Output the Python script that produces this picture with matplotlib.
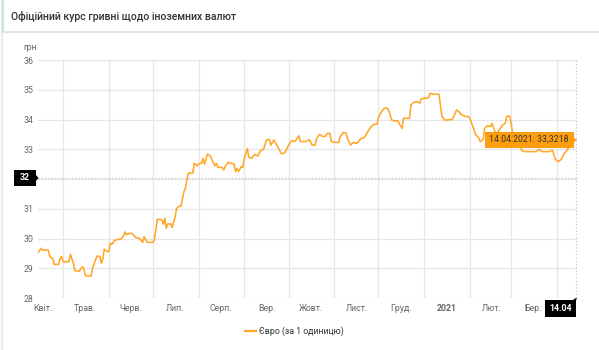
import numpy as np
import pandas as pd
import matplotlib
matplotlib.use('Agg')
import matplotlib.pyplot as plt
import matplotlib.dates as mdates
from matplotlib.patches import Rectangle, Polygon
from matplotlib.lines import Line2D

plt.rcParams['font.family'] = ['Roboto', 'DejaVu Sans']

# EUR/UAH official rate, 14.04.2020 - 14.04.2021 (days since start, value)
start = pd.Timestamp('2020-04-14')
days = [0, 2, 3, 7, 8, 10, 11, 14, 15, 16, 17, 21, 22, 24, 25, 28, 30, 31, 32, 33,
        36, 37, 39, 40, 42, 43, 44, 45, 47, 48, 49, 50, 52, 54, 56, 58, 59, 60, 62, 64,
        66, 69, 71, 72, 74, 75, 78, 79, 81, 84, 85, 86, 87, 88, 90, 91, 93, 94, 96, 97,
        99, 100, 101, 102, 103, 105, 106, 108, 109, 111, 112, 113, 115, 117, 118, 120, 121, 122, 125, 126,
        127, 129, 131, 133, 134, 135, 136, 138, 139, 140, 142, 143, 145, 147, 149, 151, 153, 155, 157, 158,
        160, 162, 164, 165, 167, 169, 170, 172, 174, 175, 177, 178, 182, 184, 186, 188, 189, 191, 193, 195,
        196, 198, 199, 201, 204, 205, 207, 209, 210, 212, 214, 216, 217, 219, 221, 222, 224, 226, 228, 230,
        231, 233, 235, 237, 238, 240, 242, 244, 245, 247, 248, 252, 253, 255, 257, 259, 260, 262, 265, 266,
        268, 272, 273, 274, 276, 281, 282, 284, 285, 287, 290, 292, 293, 295, 297, 299, 300, 302, 303, 305,
        307, 308, 310, 311, 313, 315, 317, 318, 320, 321, 322, 324, 327, 328, 330, 334, 338, 340, 342, 347,
        349, 351, 353, 355, 357, 359, 361, 365]
eur = [29.52, 29.67, 29.61, 29.61, 29.39, 29.33, 29.13, 29.13, 29.33, 29.40, 29.22, 29.22, 29.47, 29.17, 28.92, 28.90, 29.05, 29.00, 28.77, 28.74,
       28.74, 29.00, 29.28, 29.41, 29.39, 29.17, 29.33, 29.64, 29.56, 29.56, 29.84, 29.80, 29.93, 29.97, 29.97, 30.08, 30.22, 30.13, 30.17, 30.17,
       30.04, 30.00, 29.87, 30.06, 29.88, 29.87, 29.87, 29.96, 30.65, 30.63, 30.48, 30.68, 30.34, 30.49, 30.49, 30.37, 30.71, 31.01, 31.09, 31.09,
       31.57, 31.69, 31.97, 32.19, 32.20, 32.20, 32.53, 32.44, 32.51, 32.53, 32.70, 32.50, 32.84, 32.77, 32.64, 32.44, 32.53, 32.39, 32.39, 32.30,
       32.42, 32.56, 32.53, 32.51, 32.25, 32.35, 32.25, 32.42, 32.39, 32.70, 33.03, 32.73, 32.70, 32.83, 32.77, 32.95, 33.00, 33.31, 33.33, 33.14,
       33.31, 33.14, 32.95, 32.86, 32.86, 33.03, 33.14, 33.29, 33.26, 33.31, 33.45, 33.26, 33.26, 33.33, 33.14, 33.14, 33.36, 33.50, 33.43, 33.43,
       33.52, 33.54, 33.26, 33.23, 33.23, 33.43, 33.56, 33.54, 33.36, 33.14, 33.23, 33.20, 33.23, 33.36, 33.38, 33.43, 33.62, 33.76, 33.84, 33.84,
       34.07, 34.26, 34.38, 34.38, 34.30, 33.98, 33.95, 33.96, 33.87, 33.70, 34.04, 34.04, 34.49, 34.58, 34.60, 34.55, 34.69, 34.71, 34.73, 34.88,
       34.85, 34.85, 34.49, 34.10, 33.98, 34.00, 34.10, 34.32, 34.29, 34.17, 34.10, 34.10, 34.04, 33.76, 33.48, 33.39, 33.25, 33.33, 33.70, 33.79,
       33.76, 33.87, 33.59, 33.53, 33.65, 33.81, 33.87, 34.10, 34.12, 33.87, 33.53, 33.35, 33.25, 32.97, 32.92, 32.92, 32.92, 33.00, 32.92, 32.92,
       32.97, 32.66, 32.58, 32.66, 32.86, 32.97, 33.15, 33.3218]
dates = start + pd.to_timedelta(days, unit='D')

month_labels = ['Квіт.', 'Трав.', 'Черв.', 'Лип.', 'Серп.', 'Вер.', 'Жовт.',
                'Лист.', 'Груд.', '2021', 'Лют.', 'Бер.']
y_ticks = [28, 29, 30, 31, 32, 33, 34, 35, 36]
cursor_value = 32.03

W, H = 599, 350
line_c = '#ffa726'
grid_c = '#e6e6e6'
text_c = '#666666'

fig = plt.figure(figsize=(W / 100, H / 100), dpi=100)
fig.patch.set_facecolor('white')


def px(x, y):
    return (x, H - y)


ax = fig.add_axes([38 / W, 52 / H, 539 / W, 238 / H])
ax.plot(dates, eur, color=line_c, lw=1.15, solid_joinstyle='round', zorder=3)

ax.set_ylim(28, 36)
ax.set_xlim(start, dates[-1] + pd.Timedelta(hours=16))

# grid: vertical lines at month starts, labels in the middle of each month
month_starts = pd.date_range('2020-05-01', periods=12, freq='MS')
ax.set_xticks(month_starts, minor=True)
label_pos = [start + pd.Timedelta(days=3)] + list(month_starts[:11] + pd.Timedelta(days=15))
ax.set_xticks(label_pos)
ax.set_xticklabels(month_labels)
for lab in ax.get_xticklabels():
    if lab.get_text() == '2021':
        lab.set_fontweight('bold')
        lab.set_color('#333333')
ax.set_yticks(y_ticks)
ax.set_yticklabels([str(v) if v != 32 else '' for v in y_ticks])  # 32 is covered by the cursor label
ax.grid(True, axis='x', which='minor', color=grid_c, lw=0.9)
ax.grid(True, axis='y', which='major', color=grid_c, lw=0.9)
ax.tick_params(axis='both', which='both', length=0, labelsize=6.3, labelcolor=text_c)
ax.tick_params(axis='x', pad=4)
ax.tick_params(axis='y', pad=3)
for s in ax.spines.values():
    s.set_visible(False)

# crosshairs
ax.axhline(cursor_value, color='#bdbdbd', lw=0.8, ls=(0, (1, 2)), zorder=2)
ax.axvline(dates[-1], color='#bdbdbd', lw=0.8, ls=(0, (1, 2)), zorder=2)

# header
fig.text(11 / W, 1 - 17 / H, 'Офіційний курс гривні щодо іноземних валют',
         fontsize=7.6, fontweight=500, color='#333333', va='center', ha='left')
fig.add_artist(Line2D([3, W], [H - 32, H - 32], transform=None, color='#e3e3e3', lw=1.5))
fig.add_artist(Line2D([1.5, 1.5], [0, H], transform=None, color='#e8e8e8', lw=1.2))
fig.add_artist(Line2D([2.5, 2.5], [H - 31, H], transform=None, color='#cfe5d4', lw=1.5))
fig.text(23 / W, 1 - 47 / H, 'грн', fontsize=6.3, color=text_c, va='center', ha='left')

# y crosshair label
fig.add_artist(Rectangle(px(14, 186), 22, 16, transform=None, facecolor='black', edgecolor='none', zorder=5))
fig.add_artist(Polygon([px(36, 175), px(38.5, 178), px(36, 181)], closed=True, transform=None,
                       facecolor='black', edgecolor='none', zorder=5))
fig.text(25 / W, 1 - 178 / H, '32', fontsize=6.3, color='white', fontweight='bold',
         va='center', ha='center', zorder=6)

# x crosshair label
fig.add_artist(Rectangle(px(545, 317), 31, 17, transform=None, facecolor='black', edgecolor='none', zorder=5))
fig.add_artist(Polygon([px(573, 300), px(576.5, 297.5), px(576.5, 300)], closed=True, transform=None,
                       facecolor='black', edgecolor='none', zorder=5))
fig.text(560.5 / W, 1 - 308.5 / H, dates[-1].strftime('%d.%m'), fontsize=6.3, color='white',
         fontweight='bold', va='center', ha='center', zorder=6)

# tooltip anchored at the last point
fig.canvas.draw()
lx, ly = ax.transData.transform((mdates.date2num(dates[-1]), eur[-1]))
bw, bh = 88, 15
bx1 = lx - 3
fig.add_artist(Rectangle((bx1 - bw, ly - bh / 2), bw, bh, transform=None,
                         facecolor='#ff9e0d', edgecolor='#f59300', lw=0.6, zorder=7))
fig.add_artist(Polygon([(bx1, ly + 3), (lx, ly), (bx1, ly - 3)], closed=True, transform=None,
                       facecolor='#ff9e0d', edgecolor='none', zorder=7))
val_txt = f'{eur[-1]:.4f}'.replace('.', ',')
fig.text((bx1 - bw / 2) / W, ly / H, f"{dates[-1].strftime('%d.%m.%Y')}: {val_txt}",
         fontsize=6.3, color='#333333', va='center', ha='center', zorder=8)

# legend
fig.add_artist(Line2D([245, 256], [H - 331, H - 331], transform=None, color=line_c, lw=1.6))
fig.text(259 / W, 1 - 331 / H, 'Євро (за 1 одиницю)', fontsize=6.3, color='#333333',
         va='center', ha='left')

fig.savefig('out.png', dpi=100)
